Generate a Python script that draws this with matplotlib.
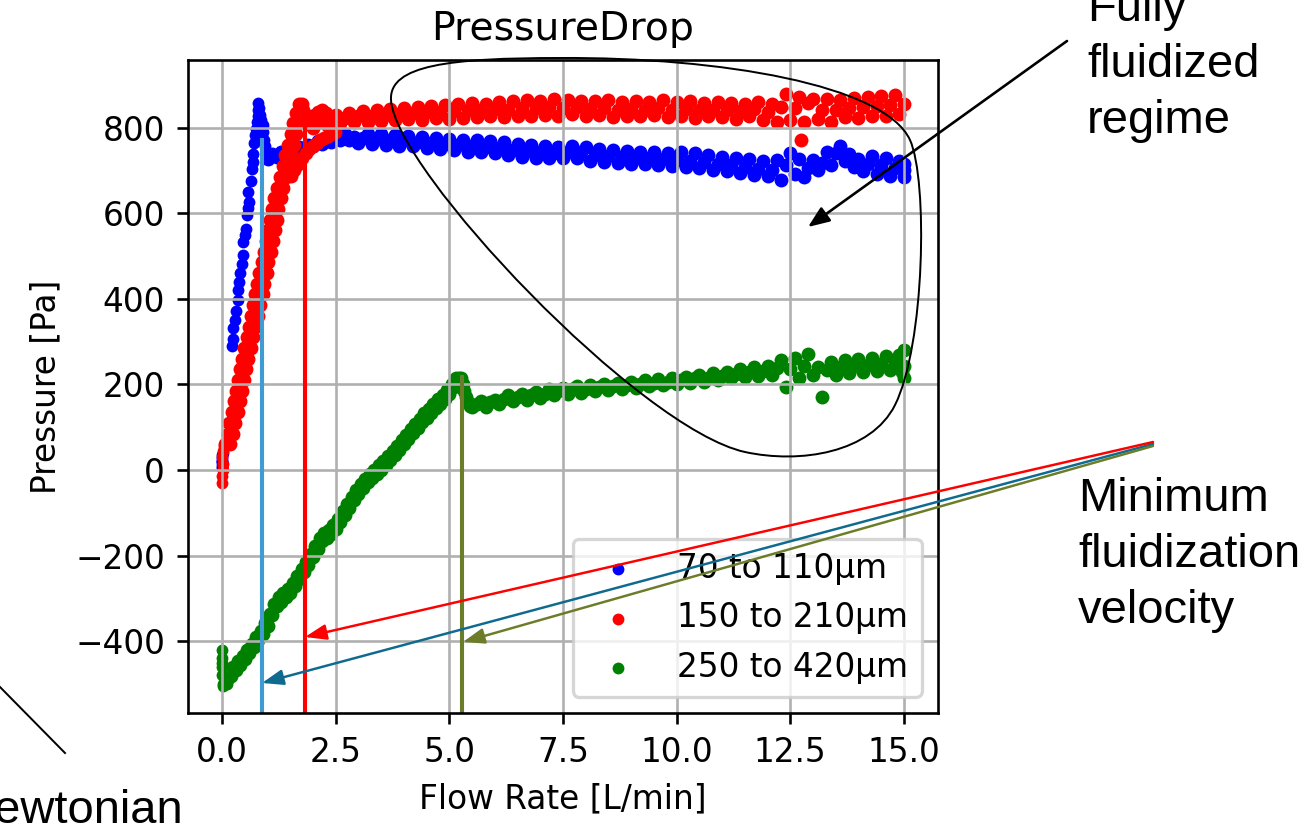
import numpy as np
import matplotlib
matplotlib.use("Agg")
import matplotlib.pyplot as plt
from matplotlib.path import Path
from matplotlib.patches import PathPatch, FancyArrowPatch

# ---- data ----
labels = ["70 to 110μm", "150 to 210μm", "250 to 420μm"]
colors = ["blue", "red", "green"]

# 70 to 110 um
blue_start_x = [0.0, 0.0, 0.0, 0.0, 0.0, 0.0, 0.01, -0.01]
blue_start_y = [4, 10, 16, 22, 28, 34, 40, 20]
blue_ramp_x = [0.21, 0.23, 0.25, 0.28, 0.31, 0.34, 0.36, 0.38, 0.40, 0.43, 0.45, 0.47,
               0.50, 0.53, 0.54, 0.57, 0.60, 0.58, 0.63, 0.65, 0.67, 0.69, 0.71, 0.73,
               0.75, 0.76, 0.78, 0.80, 0.80, 0.82, 0.84, 0.86, 0.89, 0.91, 0.93, 0.95, 0.98]
blue_ramp_y = [290, 305, 332, 350, 371, 398, 420, 440, 460, 482, 502, 533,
               548, 564, 595, 612, 626, 649, 676, 704, 720, 738, 765, 782,
               796, 812, 827, 842, 858, 846, 830, 818, 807, 790, 770, 757, 740]
blue_band_y = [726, 738, 732, 744, 736, 748, 742, 754, 748, 760,
               756, 768, 762, 774, 766, 780, 772, 784, 770, 778,
               764, 776, 786, 762, 774, 784, 760, 772, 782, 758,
               770, 780, 756, 766, 778, 752, 764, 776, 750, 762,
               774, 748, 760, 772, 744, 756, 770, 742, 754, 768,
               740, 752, 766, 736, 748, 762, 732, 746, 760, 730,
               742, 756, 728, 740, 754, 730, 744, 758, 728, 742,
               754, 722, 736, 750, 720, 734, 748, 718, 732, 746,
               716, 730, 744, 714, 728, 742, 712, 726, 740, 710,
               724, 744, 708, 722, 740, 706, 720, 736, 700, 716,
               732, 698, 712, 728, 694, 708, 726, 690, 704, 722,
               686, 702, 724, 678, 712, 740, 692, 726, 684, 706,
               724, 700, 718, 744, 712, 740, 756, 722, 738, 708,
               726, 698, 716, 734, 692, 712, 728, 688, 706, 722,
               700]
blue_band_x = np.linspace(1.0, 15.0, len(blue_band_y))
blue_extra_x = [15.0, 15.0]
blue_extra_y = [684, 716]

# 150 to 210 um
red_start_x = [0.0, 0.0, 0.01, 0.02, 0.0, 0.03, 0.04]
red_start_y = [-30, -15, 0, 15, 30, 45, 55]
red_ramp_x = [0.07, 0.17, 0.12, 0.23, 0.16, 0.28, 0.21, 0.34, 0.26, 0.39, 0.30, 0.43,
              0.34, 0.48, 0.39, 0.53, 0.44, 0.58, 0.49, 0.63, 0.54, 0.68, 0.59, 0.73,
              0.63, 0.79, 0.68, 0.84, 0.73, 0.89, 0.77, 0.93, 0.82, 0.98, 0.87, 1.02,
              0.93, 1.08, 0.97, 1.12, 1.01, 1.16, 1.05, 1.20, 1.10, 1.24, 1.15, 1.29,
              1.21, 1.35, 1.27, 1.41, 1.33, 1.47, 1.39, 1.53, 1.45, 1.59, 1.51, 1.63,
              1.57, 1.66, 1.62, 1.69, 1.70, 1.75]
red_ramp_y = [60, 60, 85, 85, 110, 110, 135, 135, 160, 160, 185, 185,
              210, 210, 235, 235, 260, 260, 285, 285, 310, 310, 335, 335,
              360, 360, 385, 385, 410, 410, 435, 435, 460, 460, 485, 485,
              510, 510, 535, 535, 560, 560, 585, 585, 610, 610, 635, 635,
              660, 660, 685, 685, 710, 710, 735, 735, 760, 760, 785, 785,
              810, 810, 835, 835, 855, 855]
red_top_x = [1.78, 1.82, 1.86, 1.92, 1.98, 2.05, 2.12, 2.20, 2.28]
red_top_y = [840, 822, 815, 820, 826, 830, 836, 840, 834]
red_limb_x = [1.52, 1.58, 1.64, 1.70, 1.76, 1.84, 1.92, 2.00, 2.08, 2.16, 2.24, 2.32, 2.40, 2.48]
red_limb_y = [688, 700, 712, 722, 730, 740, 750, 757, 764, 770, 776, 780, 785, 790]
red_band_y = [800, 812, 824, 806, 818, 830, 810, 822, 834, 812,
              826, 838, 814, 828, 842, 816, 830, 844, 818, 832,
              846, 820, 834, 848, 818, 836, 850, 822, 836, 852,
              820, 838, 856, 822, 840, 858, 824, 842, 856, 826,
              844, 860, 824, 842, 862, 828, 846, 864, 826, 846,
              862, 830, 848, 866, 828, 846, 864, 832, 848, 862,
              826, 844, 862, 830, 846, 864, 824, 842, 860, 828,
              844, 862, 826, 842, 860, 830, 846, 864, 824, 842,
              860, 828, 844, 862, 822, 840, 858, 826, 842, 860,
              824, 840, 858, 820, 838, 856, 826, 844, 860, 818,
              836, 856, 812, 848, 878, 818, 846, 872, 814, 858,
              868, 820, 842, 866, 814, 840, 864, 824, 846, 870,
              822, 848, 872, 826, 850, 874, 828, 852, 876, 832,
              856]
red_band_x = np.linspace(2.0, 15.0, len(red_band_y))
red_extra_x = [12.73]
red_extra_y = [772]

# 250 to 420 um
green_start_x = [0.0, 0.0, 0.0, 0.0, 0.01, -0.01, 0.02, 0.06, 0.10, 0.14]
green_start_y = [-420, -440, -460, -480, -500, -450, -505, -495, -500, -492]
green_ramp_y = [-481, -468, -455, -442, -428, -413, -398, -384, -364, -340,
                -319, -308, -298, -288, -272, -256, -238, -222, -204, -184,
                -167, -158, -150, -139, -122, -105, -88, -70, -56, -42,
                -29, -19, -9, 1, 12, 23, 34, 47, 60, 73,
                86, 98, 111, 122, 134, 145, 155, 166, 178, 194, 208]
green_ramp_x = np.linspace(0.2, 5.2, len(green_ramp_y))
green_ramp2_y = [-460, -447, -434, -420, -406, -390, -376, -358, -336, -314,
                 -298, -288, -278, -264, -248, -231, -214, -196, -177, -160,
                 -148, -140, -129, -114, -97, -80, -63, -47, -33, -20,
                 -9, 1, 11, 22, 33, 44, 56, 69, 82, 95,
                 107, 120, 132, 143, 155, 165, 176, 187, 200, 214]
green_ramp2_x = np.linspace(0.25, 5.15, len(green_ramp2_y))
green_peak_x = [5.22, 5.26, 5.30, 5.33, 5.36, 5.40, 5.45]
green_peak_y = [214, 216, 200, 185, 170, 158, 150]
green_band_y = [146, 154, 162, 148, 158,
                164, 154, 166, 174, 160, 170, 178, 164, 174, 182,
                168, 178, 188, 174, 184, 192, 178, 188, 196, 180,
                190, 198, 184, 194, 202, 186, 196, 204, 190, 198,
                206, 192, 200, 210, 196, 204, 212, 198, 206, 214,
                200, 210, 218, 204, 214, 222, 206, 216, 226, 210,
                220, 230, 214, 224, 236, 218, 228, 240, 220, 232,
                244, 222, 238, 256, 194, 236, 262, 214, 244, 270,
                222, 240, 170, 234, 252, 222, 240, 258, 226, 244,
                260, 228, 246, 262, 232, 248, 266, 234, 250, 268,
                242]
green_band_x = np.linspace(5.5, 15.0, len(green_band_y))
green_extra_x = [15.0, 15.0, 14.95]
green_extra_y = [215, 280, 228]

# minimum fluidization markers (x position, top of line)
umf_x = [0.88, 1.82, 5.28]
umf_top = [772, 820, 218]
umf_colors = ["#3f9bd1", "red", "#6b7d28"]
arrow_colors = ["#0e6a8e", "red", "#6b7d28"]

# sparse (single dots) and dense (overlapping band) parts of each series
sparse_x = [np.concatenate([blue_start_x, blue_ramp_x]), red_start_x, green_start_x]
sparse_y = [np.concatenate([blue_start_y, blue_ramp_y]), red_start_y, green_start_y]
dense_x = [
    np.concatenate([blue_band_x, blue_extra_x]),
    np.concatenate([red_ramp_x, red_top_x, red_limb_x, red_band_x, red_extra_x]),
    np.concatenate([green_ramp_x, green_ramp2_x, green_peak_x, green_band_x, green_extra_x]),
]
dense_y = [
    np.concatenate([blue_band_y, blue_extra_y]),
    np.concatenate([red_ramp_y, red_top_y, red_limb_y, red_band_y, red_extra_y]),
    np.concatenate([green_ramp_y, green_ramp2_y, green_peak_y, green_band_y, green_extra_y]),
]

# ---- figure ----
W, H, DPI = 1306, 836, 236
fig = plt.figure(figsize=(W / DPI, H / DPI), dpi=DPI)
ax = fig.add_axes([188 / W, 1 - 713 / H, 750 / W, 653 / H])

for i, c in enumerate(colors):
    ax.scatter(sparse_x[i], sparse_y[i], s=13, color=c, linewidths=0, label=labels[i])
    ax.scatter(dense_x[i], dense_y[i], s=18, color=c, linewidths=0)

ymin, ymax = -568, 958
for xv, top, c in zip(umf_x, umf_top, umf_colors):
    ax.plot([xv, xv], [ymin, top], color=c, lw=1.25, zorder=2.5)

ax.set_xlim(-0.75, 15.75)
ax.set_ylim(ymin, ymax)
ax.set_xticks(np.arange(0, 15.1, 2.5))
ax.set_yticks(np.arange(-400, 801, 200))
ax.grid(True)
ax.set_title("PressureDrop")
ax.set_xlabel("Flow Rate [L/min]")
ax.set_ylabel("Pressure [Pa]")
ax.legend(loc="lower right")

# ---- slide annotations, in pixel coords ----
ov = fig.add_axes([0, 0, 1, 1])
ov.set_xlim(0, W)
ov.set_ylim(H, 0)
ov.axis("off")
ov.set_zorder(5)

loop = [(391, 100), (389, 65), (450, 58), (560, 58),
        (720, 57), (885, 85), (910, 140),
        (928, 180), (925, 345), (895, 405),
        (871, 453), (800, 464), (745, 452),
        (640, 429), (395, 170), (391, 100)]
codes = [Path.MOVETO] + [Path.CURVE4] * (len(loop) - 1)
ov.add_patch(PathPatch(Path(loop, codes), fill=False, lw=0.6, color="black"))

ov.add_patch(FancyArrowPatch((1067, 41), (808, 227), arrowstyle="-|>,head_length=0.55,head_width=0.22",
                             mutation_scale=10, lw=0.8, color="black", shrinkA=0, shrinkB=0))
arrow_ends = [(262, 683), (305, 637), (463, 642)]
arrow_starts = [(1153, 444), (1153, 442), (1153, 446)]
for s, e, c in zip(arrow_starts, arrow_ends, arrow_colors):
    ov.add_patch(FancyArrowPatch(s, e, arrowstyle="-|>,head_length=0.55,head_width=0.2",
                                 mutation_scale=10, lw=0.75, color=c, shrinkA=0, shrinkB=0))

ov.plot([0, 65], [687, 753], color="black", lw=0.6)

font = dict(family="Liberation Sans", fontsize=14.4, color="black", va="baseline")
for txt, yy in zip(["Fully", "fluidized", "regime"], [21, 77, 133]):
    ov.text(1087, yy, txt, ha="left", **font)
for txt, yy in zip(["Minimum", "fluidization", "velocity"], [511, 567, 623]):
    ov.text(1078, yy, txt, ha="left", **font)
ov.text(183, 823, "Newtonian", ha="right", **font)

fig.savefig("out.png", dpi=DPI)
